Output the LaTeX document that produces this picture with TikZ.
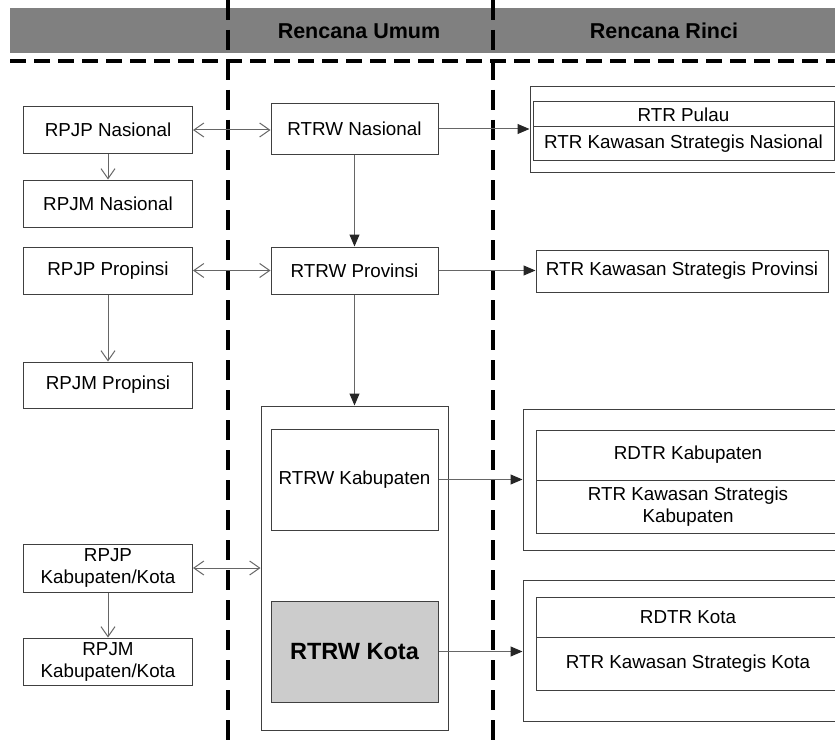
\documentclass[tikz,border=0pt]{standalone}
\usepackage{fontspec}
\setmainfont{Liberation Sans}
\usetikzlibrary{arrows.meta}
\definecolor{bandgray}{HTML}{808080}
\definecolor{kotagray}{HTML}{CCCCCC}
\begin{document}
\begin{tikzpicture}[x=1pt,y=-1pt,
  box/.style={draw=black!75, line width=1pt, fill=white, inner sep=0pt, align=center,
    font=\fontsize{18.8}{22}\selectfont},
  head/.style={font=\bfseries\fontsize{21.5}{24}\selectfont, text=black},
  farrow/.style={draw=black!60, line width=1pt, -{Triangle[length=12pt,width=10pt,color=black!85]}},
  oarrow/.style={draw=black!60, line width=1pt, -{Straight Barb[length=10pt,width=14pt]}},
  darrow/.style={draw=black!60, line width=1pt, {Straight Barb[length=10pt,width=14pt]}-{Straight Barb[length=10pt,width=14pt]}},
  vdash/.style={line width=3.2pt, dash pattern=on 20pt off 10pt},
  hdash/.style={line width=3.2pt, dash pattern=on 16pt off 8pt}
]
\useasboundingbox (0,0) rectangle (835,741);
\clip (0,0) rectangle (835,741);

% header band
\fill[bandgray] (10,8) rectangle (835,53);
\node[head] (hu) at (359,31) {Rencana Umum};
\node[head] (hr) at (664,31) {Rencana Rinci};

% dashed lines
\draw[hdash] (10,61) -- (835,61);
\draw[vdash] (228,0) -- (228,741);
\draw[vdash] (493,0) -- (493,741);

% left column
\node[box, minimum width=169, minimum height=47] (rpjpn) at (108,130) {RPJP Nasional};
\node[box, minimum width=169, minimum height=47] (rpjmn) at (108,203.5) {RPJM Nasional};
\node[box, minimum width=169, minimum height=47] (rpjpp) at (108,270.5) {RPJP Propinsi};
\node[box, minimum width=169, minimum height=46] (rpjmp) at (108,385) {RPJM Propinsi};
\node[box, minimum width=169, minimum height=48] (rpjpk) at (108,568) {RPJP\\Kabupaten/Kota};
\node[box, minimum width=169, minimum height=47] (rpjmk) at (108,661.5) {RPJM\\Kabupaten/Kota};

% middle column
\node[box, minimum width=167, minimum height=50] (rtrwn) at (354.5,129) {RTRW Nasional};
\node[box, minimum width=167, minimum height=47] (rtrwp) at (354.5,270.5) {RTRW Provinsi};
\node[box, minimum width=187, minimum height=324] (cont) at (354.5,568) {};
\node[box, minimum width=167, minimum height=101] (rtrwkab) at (354.5,479.5) {RTRW Kabupaten};
\node[box, fill=kotagray, minimum width=167, minimum height=101,
  font=\bfseries\fontsize{23.5}{26}\selectfont] (rtrwkota) at (354.5,651.5) {RTRW Kota};

% right column
\node[box, minimum width=340, minimum height=85] (nasout) at (700,129.5) {};
\node[box, minimum width=301, minimum height=25] (pulau) at (683.5,114.5) {RTR Pulau};
\node[box, minimum width=301, minimum height=33] (ksn) at (683.5,143.5) {RTR Kawasan Strategis Nasional};

\node[box, minimum width=292, minimum height=42] (ksp) at (682,271) {RTR Kawasan Strategis Provinsi};

\node[box, minimum width=340, minimum height=141] (kabout) at (693,479.5) {};
\node[box, minimum width=304, minimum height=50] (rdtrkab) at (688,455) {RDTR Kabupaten};
\node[box, minimum width=304, minimum height=53] (kskab) at (688,506.5) {RTR Kawasan Strategis\\Kabupaten};

\node[box, minimum width=340, minimum height=141] (kotaout) at (693,650.5) {};
\node[box, minimum width=304, minimum height=40] (rdtrkota) at (688,617) {RDTR Kota};
\node[box, minimum width=304, minimum height=53] (kskota) at (688,663.5) {RTR Kawasan Strategis Kota};

% connectors
\draw[darrow] (rpjpn.east) -- (rpjpn.east -| rtrwn.west);
\draw[oarrow] (rpjpn.south) -- (rpjmn.north);
\draw[darrow] (rpjpp.east) -- (rpjpp.east -| rtrwp.west);
\draw[oarrow] (rpjpp.south) -- (rpjmp.north);
\draw[darrow] (rpjpk.east) -- (cont.west);
\draw[oarrow] (rpjpk.south) -- (rpjmk.north);

\draw[farrow] (rtrwn.east) -- (rtrwn.east -| nasout.west);
\draw[farrow] (rtrwn.south) -- (rtrwp.north);
\draw[farrow] (rtrwp.east) -- (rtrwp.east -| ksp.west);
\draw[farrow] (rtrwp.south) -- (cont.north);
\draw[farrow] (rtrwkab.east) -- (rtrwkab.east -| kabout.west);
\draw[farrow] (rtrwkota.east) -- (rtrwkota.east -| kotaout.west);
\end{tikzpicture}
\end{document}
